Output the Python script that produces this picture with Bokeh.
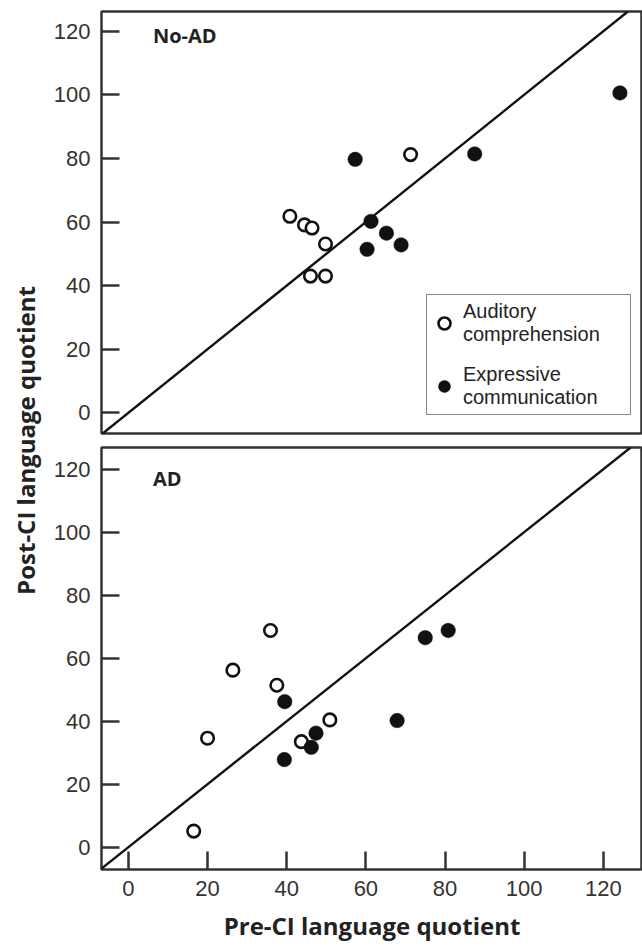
import math
from bokeh.plotting import figure
from bokeh.models import Range1d, FixedTicker, Label, Legend, LegendItem, Slope
from bokeh.layouts import row, column
from bokeh.embed import file_html
from bokeh.resources import INLINE

# ---------------- data ----------------
ticks = [0, 20, 40, 60, 80, 100, 120]

# No-AD group
noad_aud_pre = [40.8, 44.5, 46.4, 49.8, 46.0, 49.8, 71.3]
noad_aud_post = [61.8, 59.1, 58.1, 53.1, 43.0, 43.0, 81.2]
noad_exp_pre = [57.3, 61.3, 60.3, 65.2, 68.9, 87.5, 124.2]
noad_exp_post = [79.7, 60.2, 51.4, 56.5, 52.8, 81.4, 100.6]

# AD group
ad_aud_pre = [16.5, 20.0, 26.4, 35.9, 37.5, 43.7, 50.9]
ad_aud_post = [5.1, 34.6, 56.2, 68.8, 51.4, 33.5, 40.4]
ad_exp_pre = [39.5, 39.4, 46.2, 47.4, 67.9, 75.0, 80.8]
ad_exp_post = [46.2, 27.8, 31.7, 36.2, 40.2, 66.5, 68.8]

series_labels = ["Auditory\ncomprehension", "Expressive\ncommunication"]
panel_titles = ["No-AD", "AD"]
x_title = "Pre-CI language quotient"
y_title = "Post-CI language quotient"

# ---------------- styling ----------------
DARK = "#333333"
TICK_FONT = "Liberation Sans"
BOLD_FONT = "Open Sans"

x_range = Range1d(-6.8, 129.9)


def make_panel(height, y0, y1, b_top, b_bottom, show_x):
    p = figure(width=597, height=height, x_range=x_range,
               y_range=Range1d(y0, y1), output_backend="svg",
               toolbar_location=None,
               x_axis_location="below" if show_x else None,
               min_border_left=56, min_border_right=0,
               min_border_top=b_top, min_border_bottom=b_bottom)
    p.grid.visible = False
    p.outline_line_color = DARK
    p.outline_line_width = 2.5
    p.background_fill_color = "white"
    p.border_fill_color = "white"
    axes = list(p.yaxis) + (list(p.xaxis) if show_x else [])
    for ax in axes:
        ax.ticker = FixedTicker(ticks=ticks)
        ax.major_tick_in = 18
        ax.major_tick_out = 0
        ax.minor_tick_line_color = None
        ax.axis_line_color = None
        ax.major_tick_line_color = DARK
        ax.major_tick_line_width = 2.5
        ax.major_label_text_font = TICK_FONT
        ax.major_label_text_font_size = "22px"
        ax.major_label_text_color = DARK
        ax.major_label_standoff = 11
    p.add_layout(Slope(gradient=1, y_intercept=0, line_color="#111111",
                       line_width=2.4))
    return p


def add_points(p, aud_x, aud_y, exp_x, exp_y):
    r_aud = p.scatter(aud_x, aud_y, marker="circle", size=12.5,
                      fill_color="white", line_color="#111111",
                      line_width=2.6)
    r_exp = p.scatter(exp_x, exp_y, marker="circle", size=14.5,
                      fill_color="#111111", line_color="#111111",
                      line_width=0.5)
    return r_aud, r_exp


def add_title(p, text, y):
    p.add_layout(Label(x=6.2, y=y, text=text, text_font=BOLD_FONT,
                       text_font_style="bold", text_font_size="20px",
                       text_color="#222222", text_baseline="middle"))


# top panel (No-AD)
top = make_panel(440, -6.5, 126.2, 11, 7, False)
ra, re = add_points(top, noad_aud_pre, noad_aud_post, noad_exp_pre, noad_exp_post)
add_title(top, panel_titles[0], 118.5)

legend = Legend(items=[LegendItem(label=series_labels[0], renderers=[ra]),
                       LegendItem(label=series_labels[1], renderers=[re])],
                location=(325, 18), padding=2, spacing=11,
                glyph_width=30, glyph_height=30, label_standoff=4,
                label_width=165, label_height=52,
                label_text_font=TICK_FONT, label_text_font_size="20px",
                label_text_color="#222222", label_text_line_height=1.05,
                border_line_color="#111111", border_line_width=1.8,
                background_fill_color="white", background_fill_alpha=1.0)
top.add_layout(legend)

# bottom panel (AD)
bottom = make_panel(508, -7.1, 126.9, 7, 79, True)
add_points(bottom, ad_aud_pre, ad_aud_post, ad_exp_pre, ad_exp_post)
add_title(bottom, panel_titles[1], 117.0)
bottom.xaxis.axis_label = x_title
bottom.xaxis.axis_label_text_font = BOLD_FONT
bottom.xaxis.axis_label_text_font_style = "bold"
bottom.xaxis.axis_label_text_font_size = "24px"
bottom.xaxis.axis_label_text_color = "#222222"
bottom.xaxis.axis_label_standoff = 10

# left strip with the shared y-axis title
strip = figure(width=45, height=948, output_backend="svg",
               toolbar_location=None, x_axis_location=None,
               y_axis_location=None, min_border=0,
               x_range=Range1d(0, 1), y_range=Range1d(0, 1))
strip.grid.visible = False
strip.outline_line_color = None
strip.add_layout(Label(x=25, y=508, x_units="screen", y_units="screen",
                       text=y_title, angle=math.pi / 2,
                       text_font=BOLD_FONT, text_font_style="bold",
                       text_font_size="24px", text_color="#222222",
                       text_align="center", text_baseline="middle"))

layout = row(strip, column(top, bottom))

with open("out.html", "w") as f:
    f.write(file_html(layout, INLINE))
